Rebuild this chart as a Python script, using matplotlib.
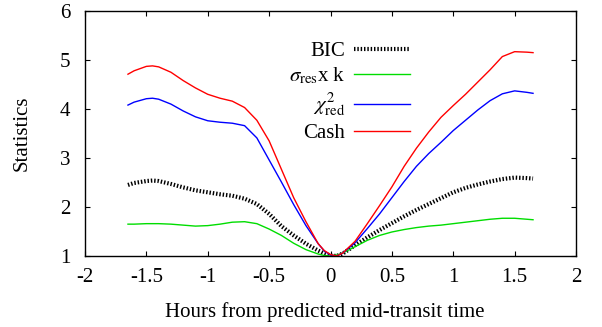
import matplotlib
matplotlib.use("Agg")
import matplotlib.pyplot as plt

hours = [-1.65, -1.6, -1.5, -1.45, -1.4, -1.3, -1.2, -1.1, -1.0, -0.9, -0.8, -0.7,
         -0.6, -0.5, -0.4, -0.3, -0.2, -0.1, -0.05, 0.0, 0.05, 0.1, 0.2, 0.3, 0.4,
         0.5, 0.6, 0.7, 0.8, 0.9, 1.0, 1.1, 1.2, 1.3, 1.4, 1.5, 1.6, 1.65]

bic = [2.45, 2.49, 2.53, 2.54, 2.53, 2.47, 2.40, 2.34, 2.30, 2.26, 2.23, 2.17,
       2.06, 1.86, 1.61, 1.42, 1.25, 1.11, 1.05, 1.01, 1.00, 1.05, 1.22, 1.38, 1.53,
       1.67, 1.81, 1.94, 2.06, 2.18, 2.30, 2.39, 2.46, 2.52, 2.57, 2.60, 2.59, 2.58]

sigma_k = [1.65, 1.65, 1.66, 1.66, 1.66, 1.65, 1.63, 1.61, 1.62, 1.65, 1.69, 1.70,
           1.66, 1.55, 1.42, 1.26, 1.13, 1.04, 1.01, 1.00, 1.02, 1.06, 1.19, 1.32, 1.42,
           1.49, 1.54, 1.58, 1.61, 1.63, 1.66, 1.69, 1.72, 1.75, 1.77, 1.77, 1.75, 1.74]

chi2_red = [4.08, 4.14, 4.21, 4.22, 4.20, 4.10, 3.96, 3.84, 3.76, 3.73, 3.71, 3.66,
            3.41, 2.96, 2.51, 2.05, 1.62, 1.25, 1.10, 1.02, 1.00, 1.06, 1.27, 1.56, 1.86,
            2.19, 2.52, 2.83, 3.09, 3.32, 3.56, 3.77, 3.98, 4.17, 4.31, 4.37, 4.34, 4.32]

cash = [4.71, 4.78, 4.87, 4.88, 4.86, 4.75, 4.58, 4.43, 4.30, 4.22, 4.16, 4.03,
        3.77, 3.35, 2.77, 2.19, 1.70, 1.25, 1.11, 1.03, 1.00, 1.06, 1.30, 1.66, 2.03,
        2.41, 2.83, 3.20, 3.53, 3.83, 4.07, 4.30, 4.55, 4.80, 5.07, 5.17, 5.16, 5.15]

xticks = [-2, -1.5, -1, -0.5, 0, 0.5, 1, 1.5, 2]
xticklabels = ["-2", "-1.5", "-1", "-0.5", "0", "0.5", "1", "1.5", "2"]
yticks = [1, 2, 3, 4, 5, 6]

plt.rcParams['font.family'] = ['Liberation Serif', 'DejaVu Serif']
plt.rcParams['mathtext.fontset'] = 'stix'

FS = 15

fig = plt.figure(figsize=(6.02, 3.27), dpi=100)
ax = fig.add_axes([85/602, 1 - 256/327, (576-85)/602, (256-11)/327])

ax.plot(hours, bic, color='black', lw=3.0, dashes=(0.35, 0.45), label='BIC')
ax.plot(hours, sigma_k, color='#00dd00', lw=1.0, label=r'$\sigma_{\rm res}$x k')
ax.plot(hours, chi2_red, color='#0000ff', lw=1.0, label=r'$\chi^2_{\rm red}$')
ax.plot(hours, cash, color='#ff0000', lw=1.0, label='Cash')

ax.set_xlim(-2, 2)
ax.set_ylim(1, 6)
ax.set_xticks(xticks)
ax.set_xticklabels(xticklabels)
ax.set_yticks(yticks)
ax.tick_params(direction='in', length=3.6, width=0.8, top=True, right=True,
               labelsize=FS, colors='black')
ax.tick_params(axis='x', pad=8.5)
ax.tick_params(axis='y', pad=10.5)
for s in ax.spines.values():
    s.set_linewidth(1.0)
    s.set_color('black')

ax.set_xlabel('Hours from predicted mid-transit time', fontsize=FS)
ax.set_ylabel('Statistics', fontsize=FS)
ax.xaxis.set_label_coords(0.489, -0.19)
ax.yaxis.set_label_coords(-0.108, 0.5)

leg = ax.legend(loc='upper right', bbox_to_anchor=((410-85)/491, 0.875),
                frameon=False, markerfirst=False, fontsize=FS,
                handlelength=2.7, handletextpad=0.4, labelspacing=0.22,
                borderpad=0, borderaxespad=0)

fig.savefig('out.png', dpi=100)
